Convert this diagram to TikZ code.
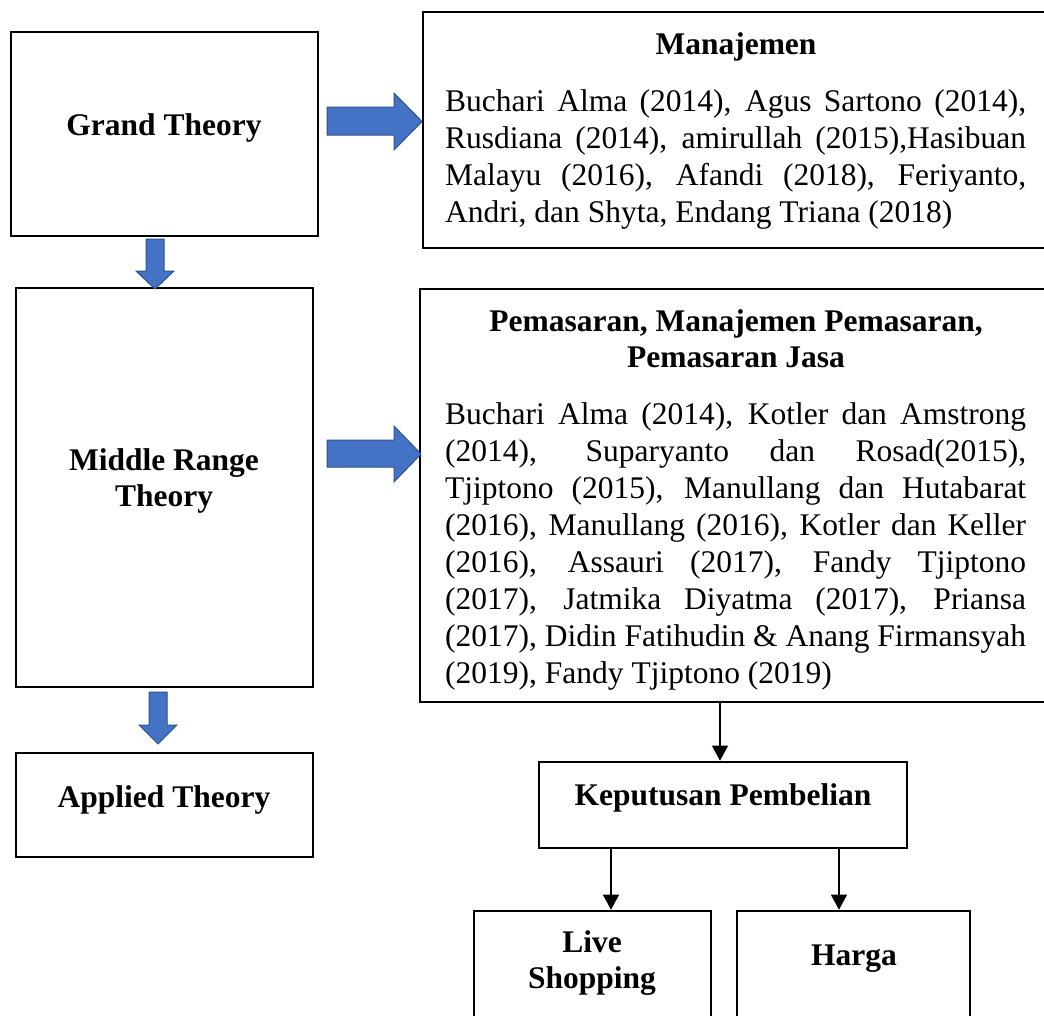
\documentclass[tikz,border=0pt]{standalone}
\usepackage{fontspec}
\setmainfont{Liberation Serif}
\usetikzlibrary{arrows.meta}
\definecolor{arrowblue}{HTML}{4472C4}
\definecolor{arrowedge}{HTML}{2F528F}
\newcommand\stackc[1]{\vtop{\halign{\hfil##\hfil\cr#1\crcr}}}
\newcommand\jline[1]{\hbox to 581pt{#1}}
\hbadness=10000 \hfuzz=60pt \vbadness=10000
\begin{document}
\begin{tikzpicture}[x=1pt,y=-1pt,
  box/.style={draw=black, line width=2.6pt, rectangle, inner sep=0pt},
  body/.style={font=\fontsize{31.5}{37}\selectfont, inner sep=0pt, anchor=base west},
  head/.style={font=\bfseries\fontsize{31.5}{36}\selectfont, inner sep=0pt, anchor=base},
  blockarrow/.style={fill=arrowblue, draw=arrowedge, line width=1pt, line join=miter},
  thinarrow/.style={line width=1.1pt, -{Triangle[length=15pt,width=16pt]}}]
\useasboundingbox (0,0) rectangle (1044,1015);
\fill[white] (0,0) rectangle (1044,1015);
\clip (0,0) rectangle (1044,1015);

% boxes
\node[box, minimum width=307pt, minimum height=204pt] (grand) at (164.5,134) {};
\node[box, minimum width=297pt, minimum height=399pt] (middle) at (164.5,487.5) {};
\node[box, minimum width=297pt, minimum height=104pt] (applied) at (164.5,805) {};
\node[box, minimum width=647pt, minimum height=236pt] (man) at (746.5,130) {};
\node[box, minimum width=650pt, minimum height=413pt] (pem) at (745,495.5) {};
\node[box, minimum width=368pt, minimum height=86pt] (kep) at (723,805) {};
\node[box, minimum width=237pt, minimum height=149pt] (live) at (592.5,985.5) {};
\node[box, minimum width=233pt, minimum height=149pt] (harga) at (853.5,985.5) {};

% texts
\node[head] (tgrand) at (164,135) {Grand Theory};
\node[head] (tmiddle) at (164,470) {\stackc{Middle Range\cr Theory}};
\node[head] (tapplied) at (164,807) {Applied Theory};
\node[head] (tman) at (736,54) {Manajemen};
\node[head] (tpem) at (736,331) {\stackc{Pemasaran, Manajemen Pemasaran,\cr Pemasaran Jasa}};
\node[head] (tkep) at (723,805) {Keputusan Pembelian};
\node[head] (tlive) at (592,952) {\stackc{Live\cr Shopping}};
\node[head] (tharga) at (854,965) {Harga};

\node[body] (bman) at (445,111) {\vtop{%
\jline{Buchari Alma (2014), Agus Sartono (2014),}
\jline{Rusdiana (2014), amirullah (2015),Hasibuan}
\jline{Malayu (2016), Afandi (2018), Feriyanto,}
\hbox{Andri, dan Shyta, Endang Triana (2018)}}};

\node[body] (bpem) at (445,424) {\vtop{%
\jline{Buchari Alma (2014), Kotler dan Amstrong}
\jline{(2014), Suparyanto dan Rosad(2015),}
\jline{Tjiptono (2015), Manullang dan Hutabarat}
\jline{(2016), Manullang (2016), Kotler dan Keller}
\jline{(2016), Assauri (2017), Fandy Tjiptono}
\jline{(2017), Jatmika Diyatma (2017), Priansa}
\jline{(2017), Didin Fatihudin \& Anang Firmansyah}
\hbox{(2019), Fandy Tjiptono (2019)}}};

% block arrows
\draw[blockarrow] (327,107) -- (394,107) -- (394,93) -- (422,121.5) -- (394,150) -- (394,135) -- (327,135) -- cycle;
\draw[blockarrow] (327,440) -- (394,440) -- (394,426) -- (421,454) -- (394,482) -- (394,467) -- (327,467) -- cycle;
\draw[blockarrow] (146,239) -- (164,239) -- (164,271) -- (174,271) -- (155,289) -- (136,271) -- (146,271) -- cycle;
\draw[blockarrow] (149,692) -- (167,692) -- (167,725) -- (177,725) -- (158,744) -- (139,725) -- (149,725) -- cycle;

% thin connectors
\coordinate (c1) at (720,0);
\coordinate (c2) at (611,0);
\coordinate (c3) at (839,0);
\draw[thinarrow] (pem.south -| c1) -- (kep.north -| c1);
\draw[thinarrow] (kep.south -| c2) -- (live.north -| c2);
\draw[thinarrow] (kep.south -| c3) -- (harga.north -| c3);
\end{tikzpicture}
\end{document}
